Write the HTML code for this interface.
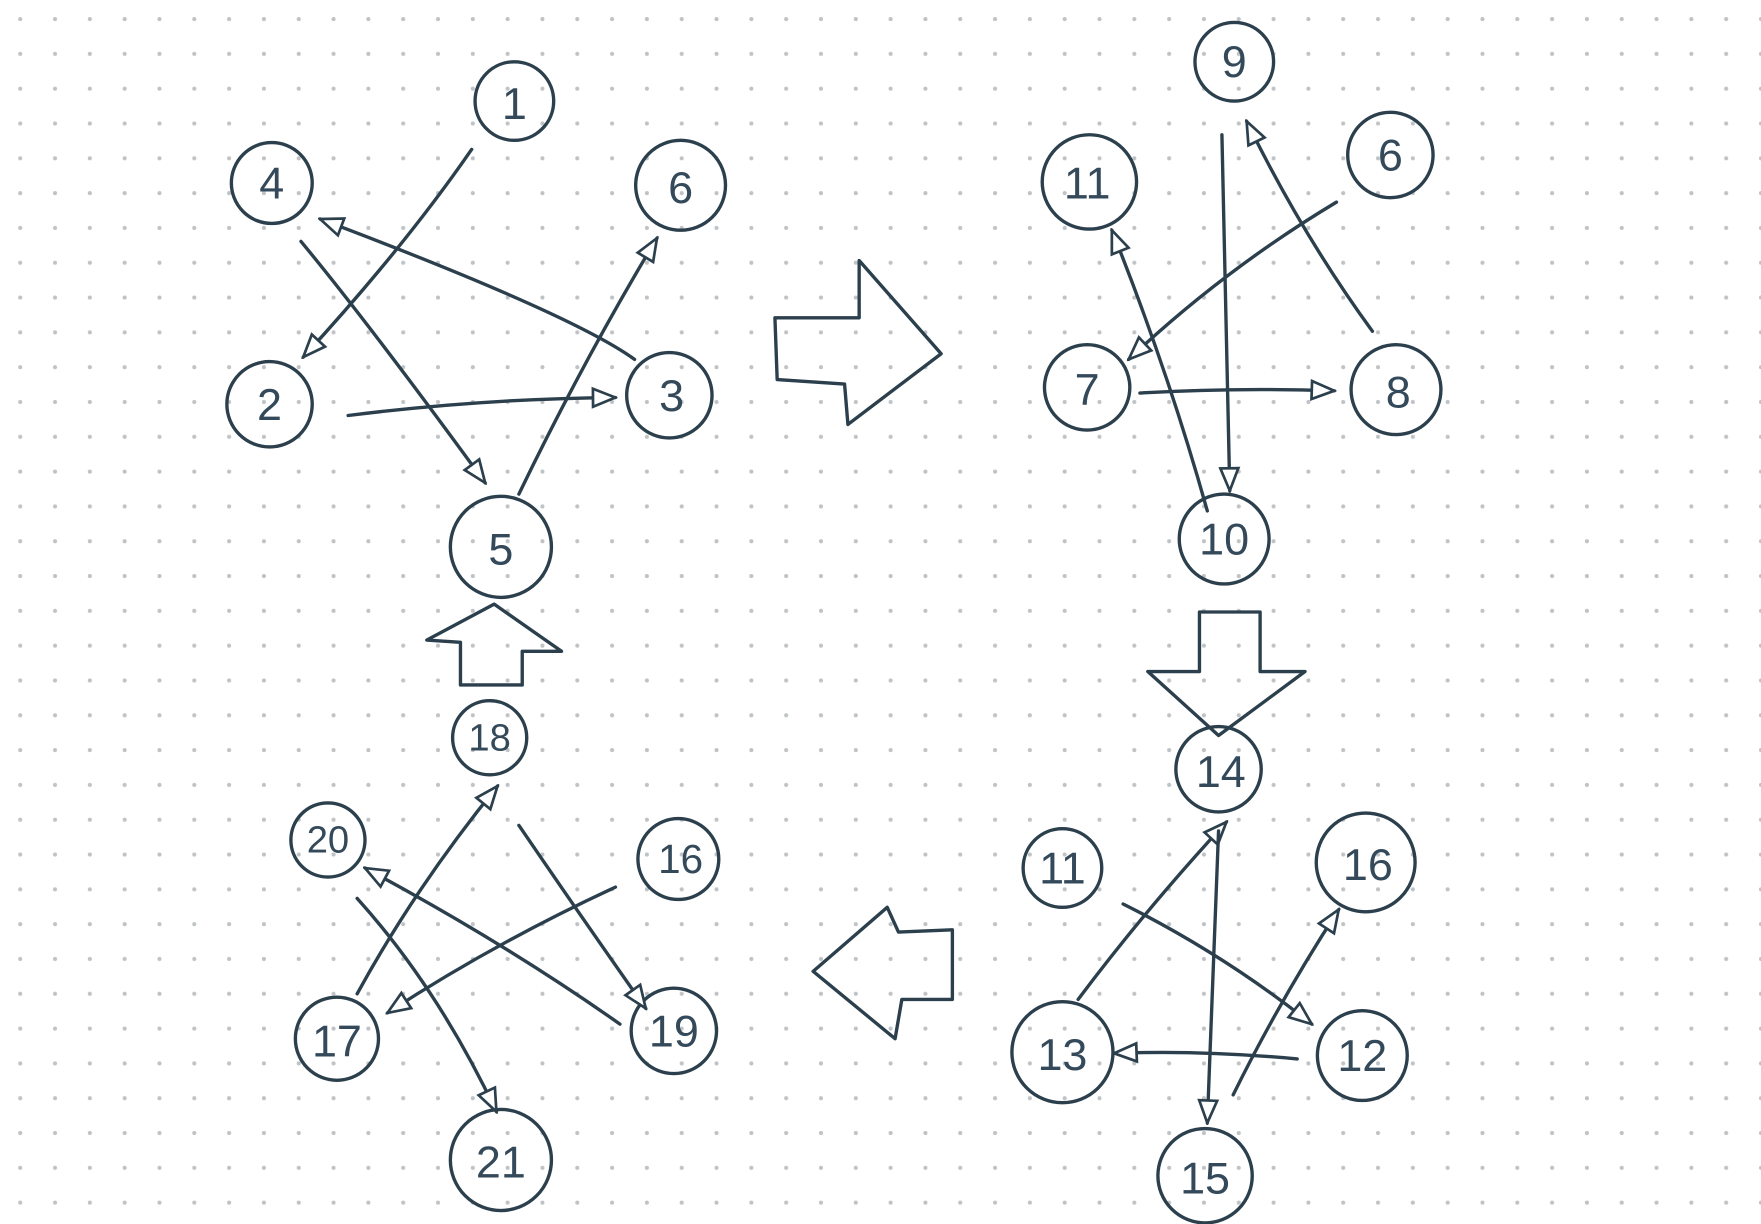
<!DOCTYPE html>
<html><head><meta charset="utf-8"><style>
html,body{margin:0;padding:0;background:#fff;}
svg{display:block;}
text{font-family:"Liberation Sans",sans-serif;font-size:40px;fill:#34495a;text-anchor:middle;dominant-baseline:central;}
</style></head><body>
<svg width="1761" height="1224" viewBox="0 0 1568 1090" preserveAspectRatio="none" xmlns="http://www.w3.org/2000/svg">
<defs>
<pattern id="dots" x="3" y="-3" width="31" height="31" patternUnits="userSpaceOnUse">
<circle cx="15" cy="20" r="1.8" fill="#bfc3c6"/>
</pattern>
<marker id="ar" viewBox="0 0 24 20" refX="22" refY="10" markerWidth="24" markerHeight="20" markerUnits="userSpaceOnUse" orient="auto">
<path d="M2,2 L22,10 L2,18 Z" fill="#fff" stroke="#2b3f4c" stroke-width="2.4"/>
</marker>
</defs>
<rect width="1568" height="1090" fill="#fff"/>
<rect width="1568" height="1090" fill="url(#dots)"/>
<g fill="none" stroke="#2b3f4c" stroke-width="3" stroke-linecap="round" stroke-linejoin="round">
<circle cx="458" cy="90" r="35"/>
<circle cx="242" cy="163" r="36"/>
<circle cx="606" cy="165" r="40"/>
<circle cx="240" cy="360" r="38"/>
<circle cx="596" cy="352" r="38"/>
<circle cx="446" cy="487" r="45"/>
<circle cx="1099" cy="55" r="35"/>
<circle cx="970" cy="162" r="42"/>
<circle cx="1238" cy="138" r="38"/>
<circle cx="968" cy="345" r="38"/>
<circle cx="1243" cy="347" r="40"/>
<circle cx="1090" cy="480" r="40"/>
<circle cx="1085" cy="685" r="38"/>
<circle cx="946" cy="773" r="35"/>
<circle cx="1216" cy="768" r="44"/>
<circle cx="946" cy="937" r="45"/>
<circle cx="1213" cy="940" r="40"/>
<circle cx="1073" cy="1047" r="42"/>
<circle cx="436" cy="657" r="33"/>
<circle cx="292" cy="748" r="33"/>
<circle cx="604" cy="765" r="36"/>
<circle cx="300" cy="925" r="37"/>
<circle cx="600" cy="918" r="38"/>
<circle cx="446" cy="1033" r="45"/>

<g marker-end="url(#ar)">
<path d="M420,133 Q360,220 270,318"/>
<path d="M565,320 Q510,280 285,195"/>
<path d="M268,215 Q330,290 432,430"/>
<path d="M310,370 Q430,355 548,354"/>
<path d="M462,440 Q520,320 585,212"/>
<path d="M1190,180 Q1090,240 1005,320"/>
<path d="M1222,295 Q1160,210 1110,108"/>
<path d="M1075,455 Q1040,330 990,205"/>
<path d="M1088,120 Q1092,280 1095,437"/>
<path d="M1015,350 Q1100,345 1188,348"/>
<path d="M960,890 Q1020,810 1092,732"/>
<path d="M1085,740 Q1080,870 1075,1000"/>
<path d="M1000,805 Q1090,850 1168,912"/>
<path d="M1155,943 Q1070,935 992,938"/>
<path d="M1098,975 Q1140,890 1192,810"/>
<path d="M548,790 Q440,840 345,902"/>
<path d="M462,735 Q520,820 575,898"/>
<path d="M318,885 Q370,790 443,700"/>
<path d="M552,912 Q450,840 325,773"/>
<path d="M318,800 Q390,880 442,990"/>
</g>

<path d="M690,283 L765,283 L765,232 L838,315 L755,378 L752,342 L692,338 Z"/>
<path d="M1068,545 L1122,545 L1122,598 L1162,598 L1085,655 L1022,598 L1068,598 Z"/>
<path d="M848,828 L848,890 L803,890 L797,925 L724,865 L790,808 L800,830 Z"/>
<path d="M410,610 L465,610 L465,580 L500,580 L440,538 L380,570 L410,572 Z"/>
</g>
<g>
<text x="458" y="92">1</text>
<text x="242" y="163">4</text>
<text x="606" y="167">6</text>
<text x="240" y="360">2</text>
<text x="598" y="352">3</text>
<text x="446" y="489">5</text>
<text x="1099" y="55">9</text>
<text x="968" y="163">11</text>
<text x="1238" y="138">6</text>
<text x="968" y="347">7</text>
<text x="1245" y="349">8</text>
<text x="1090" y="480">10</text>
<text x="1087" y="687">14</text>
<text x="946" y="773">11</text>
<text x="1218" y="770">16</text>
<text x="946" y="939">13</text>
<text x="1213" y="940">12</text>
<text x="1073" y="1049">15</text>
<text x="436" y="657" style="font-size:34px">18</text>
<text x="292" y="748" style="font-size:34px">20</text>
<text x="606" y="765" style="font-size:36px">16</text>
<text x="300" y="927">17</text>
<text x="600" y="918">19</text>
<text x="446" y="1035">21</text>
</g>
</svg>
</body></html>
